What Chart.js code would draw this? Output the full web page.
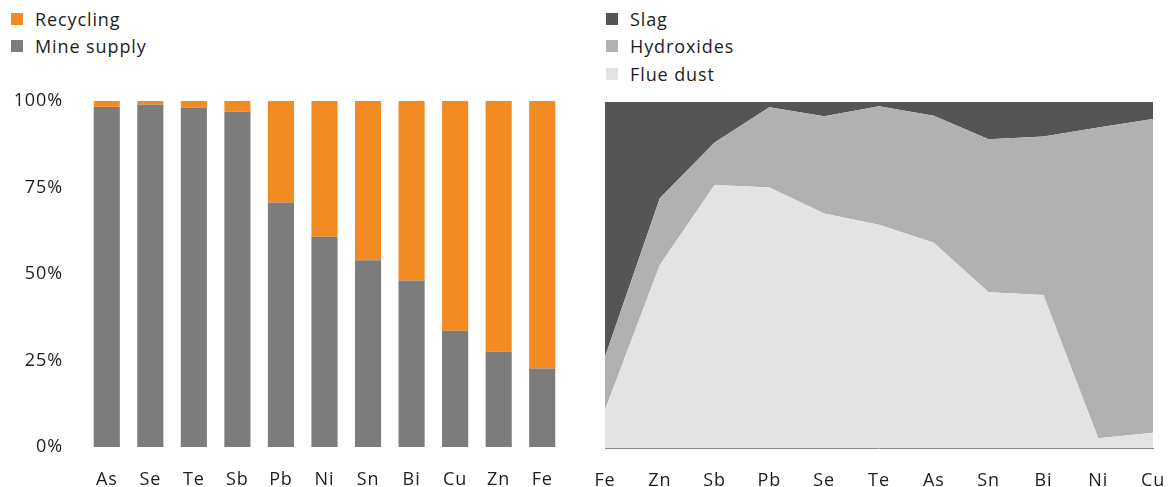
<!DOCTYPE html>
<html>
<head>
<meta charset="utf-8">
<script src="https://cdn.jsdelivr.net/npm/chart.js@4.4.1/dist/chart.umd.min.js"></script>
<style>
  body { margin: 0; background: #fff; font-family: "Open Sans", sans-serif; }
  #wrap { position: relative; width: 1171px; height: 487px; overflow: hidden; }
  canvas { position: absolute; top: 0; }
  .legend { position: absolute; top: 5px; font-size: 18px; letter-spacing: 0.9px; color: #1e1e1e; }
  .legend .item { height: 27.5px; display: flex; align-items: center; }
  .legend .sw { width: 12px; height: 12px; margin-right: 12px; display: inline-block; }
</style>
</head>
<body>
<div id="wrap">
  <div class="legend" id="legLeft" style="left:11px"></div>
  <div class="legend" id="legRight" style="left:606px"></div>
  <canvas id="left" width="575" height="487" style="left:0"></canvas>
  <canvas id="right" width="581" height="487" style="left:590px"></canvas>
</div>
<script>
// bar chart: share of supply (%)
const metalsBar = ['As', 'Se', 'Te', 'Sb', 'Pb', 'Ni', 'Sn', 'Bi', 'Cu', 'Zn', 'Fe'];
const mineSupply = [98.3, 99.0, 98.0, 97.0, 70.7, 60.8, 54.0, 48.1, 33.6, 27.5, 22.7];
const recycling = mineSupply.map(v => +(100 - v).toFixed(1));
const pctTicks = [0, 25, 50, 75, 100];

// area chart: where the metal goes (%)
const metalsArea = ['Fe', 'Zn', 'Sb', 'Pb', 'Se', 'Te', 'As', 'Sn', 'Bi', 'Ni', 'Cu'];
const flueDust = [11.0, 52.9, 76.0, 75.3, 67.8, 64.5, 59.3, 45.0, 44.2, 2.8, 4.4];
const hydroxides = [15.4, 19.3, 12.3, 23.2, 28.1, 34.3, 36.7, 44.2, 45.8, 89.8, 90.7];
const slag = [73.6, 27.8, 11.7, 1.5, 4.1, 1.2, 4.0, 10.8, 10.0, 7.4, 4.9];

const ORANGE = '#f28c22';
const GREY = '#7b7c7b';
const TEXT = '#1e1e1e';

Chart.defaults.font = { family: '"Open Sans", sans-serif', size: 18 };
Chart.defaults.color = TEXT;

// the source font is a bit wider, so spread the letters a little
const spacing = {
  id: 'spacing',
  beforeDraw(chart) { chart.ctx.letterSpacing = '0.9px'; }
};

// simple vertical legend made from the datasets
function buildLegend(el, items) {
  items.forEach(it => {
    const row = document.createElement('div');
    row.className = 'item';
    const sw = document.createElement('span');
    sw.className = 'sw';
    sw.style.background = it.color;
    row.appendChild(sw);
    row.appendChild(document.createTextNode(it.label));
    el.appendChild(row);
  });
}

const barChart = new Chart(document.getElementById('left'), {
  type: 'bar',
  data: {
    labels: metalsBar,
    datasets: [
      { label: 'Mine supply', data: mineSupply, backgroundColor: GREY },
      { label: 'Recycling', data: recycling, backgroundColor: ORANGE }
    ]
  },
  plugins: [spacing],
  options: {
    responsive: false,
    animation: false,
    devicePixelRatio: 1,
    barPercentage: 0.6,
    categoryPercentage: 1,
    layout: { padding: { top: 101, right: 11, left: 0, bottom: 0 } },
    plugins: { legend: { display: false }, tooltip: { enabled: false } },
    scales: {
      x: {
        stacked: true,
        grid: { display: false, drawTicks: false },
        border: { display: false },
        ticks: { padding: 22, autoSkip: false, maxRotation: 0 },
        afterFit: s => { s.height = 40; s.paddingLeft = 0; s.paddingRight = 0; }
      },
      y: {
        stacked: true,
        min: 0,
        max: 100,
        afterBuildTicks: s => { s.ticks = pctTicks.map(v => ({ value: v })); },
        ticks: { padding: 22, callback: v => v + '%' },
        grid: { display: false, drawTicks: false },
        border: { display: false },
        afterFit: s => { s.width = 85; }
      }
    }
  }
});

const areaChart = new Chart(document.getElementById('right'), {
  type: 'line',
  data: {
    labels: metalsArea,
    datasets: [
      { label: 'Flue dust', data: flueDust, backgroundColor: '#e3e3e3', fill: 'origin' },
      { label: 'Hydroxides', data: hydroxides, backgroundColor: '#b1b1b1', fill: '-1' },
      { label: 'Slag', data: slag, backgroundColor: '#555555', fill: '-1' }
    ]
  },
  plugins: [spacing],
  options: {
    responsive: false,
    animation: false,
    devicePixelRatio: 1,
    elements: {
      line: { borderWidth: 0, tension: 0 },
      point: { radius: 0 }
    },
    layout: { padding: { top: 102, right: 18, left: 15, bottom: 0 } },
    plugins: { legend: { display: false }, tooltip: { enabled: false } },
    scales: {
      x: {
        grid: { display: false, drawTicks: false },
        border: { display: true, color: '#8a8a8a', width: 1 },
        ticks: { padding: 22, autoSkip: false, maxRotation: 0 },
        // labels sit on the edges, keep the plot edge where the source has it
        afterFit: s => { s.height = 39; s.paddingLeft = 0; s.paddingRight = 0; }
      },
      y: {
        stacked: true,
        display: false,
        min: 0,
        max: 100
      }
    }
  }
});

buildLegend(document.getElementById('legLeft'), [
  { label: 'Recycling', color: ORANGE },
  { label: 'Mine supply', color: GREY }
]);
buildLegend(document.getElementById('legRight'),
  areaChart.data.datasets.slice().reverse().map(d => ({ label: d.label, color: d.backgroundColor })));
</script>
</body>
</html>
